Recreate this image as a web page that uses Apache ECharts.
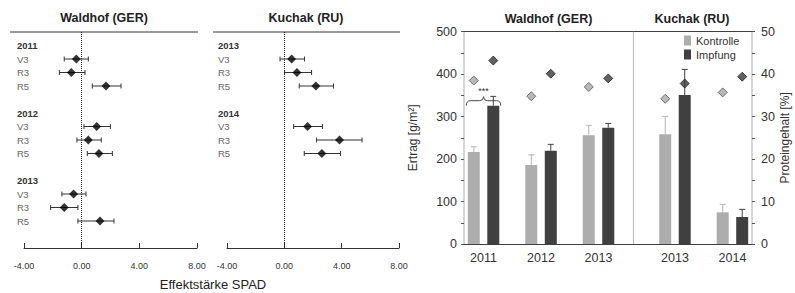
<!DOCTYPE html>
<html>
<head>
<meta charset="utf-8">
<script src="https://cdn.jsdelivr.net/npm/echarts@6.0.0/dist/echarts.min.js"></script>
<style>
  html, body { margin: 0; padding: 0; background: #fff; }
  #chart { width: 795px; height: 293px; }
</style>
</head>
<body>
<div id="chart"></div>
<script>
// Effektstärke SPAD (Forest-Plots links)
const stages = ['V3', 'R3', 'R5'];
const waldhofYears = ['2011', '2012', '2013'];
const waldhofEffect = [-0.37, -0.72, 1.69, 1.04, 0.46, 1.20, -0.56, -1.21, 1.27];
const waldhofLow = [-1.21, -1.55, 0.74, 0.16, -0.33, 0.39, -1.37, -2.15, -0.26];
const waldhofHigh = [0.46, 0.23, 2.73, 1.99, 1.36, 2.13, 0.30, -0.26, 2.24];
const kuchakYears = ['2013', '2014'];
const kuchakEffect = [0.51, 0.88, 2.20, 1.62, 3.85, 2.62];
const kuchakLow = [-0.30, 0.02, 1.04, 0.65, 2.25, 1.39];
const kuchakHigh = [1.41, 1.90, 3.43, 2.66, 5.42, 3.92];

// Ertrag und Proteingehalt (rechts)
const siteYears = [['2011', '2012', '2013'], ['2013', '2014']];
const ertragKontrolle = [216.6, 186.0, 255.9, 258.2, 74.6];
const ertragKontrolleErr = [12.4, 24.0, 23.5, 42.4, 18.8];
const ertragImpfung = [325.7, 219.8, 273.9, 350.9, 63.6];
const ertragImpfungErr = [22.0, 14.9, 10.1, 60.4, 18.0];
const proteinKontrolle = [38.5, 34.8, 37.0, 34.2, 35.7];
const proteinImpfung = [43.2, 40.1, 39.0, 37.8, 39.4];
const signifikanz = ['***', '', '', '', ''];

const FONT = '"Liberation Sans", Arial, sans-serif';
const chart = echarts.init(document.getElementById('chart'), null, { renderer: 'svg' });

// Zeilen: leer, Jahr, V3, R3, R5, leer, Jahr, ...
function forestRows(years) {
  const rows = [''];
  years.forEach(y => rows.push(y, ...stages, ''));
  while (rows.length < 17) rows.push('');
  return rows;
}

function forestData(years, eff, lo, hi) {
  const pts = [];
  const bars = [];
  years.forEach((y, i) => {
    stages.forEach((s, j) => {
      const k = i * stages.length + j;
      const row = 1 + i * (stages.length + 2) + 1 + j;
      pts.push([eff[k], row]);
      bars.push([lo[k], hi[k], row]);
    });
  });
  return { pts, bars };
}

const waldhof = forestData(waldhofYears, waldhofEffect, waldhofLow, waldhofHigh);
const kuchak = forestData(kuchakYears, kuchakEffect, kuchakLow, kuchakHigh);

// Positionen der Jahresgruppen, zwischen den Standorten etwas Abstand
const siteGap = 1.33;
const groupPos = [];
const groupLabel = [];
let p = 0;
siteYears.forEach(ys => {
  ys.forEach(y => { groupPos.push(p); groupLabel.push(y); p += 1; });
  p += siteGap - 1;
});
const edgePad = 0.34;
const xMin = -edgePad;
const xMax = groupPos[groupPos.length - 1] + edgePad;
const dividerPos = groupPos[siteYears[0].length - 1] + 0.6;
const barDx = 9.75;

function forestAxis(gridIndex) {
  return {
    gridIndex, type: 'value', min: -4, max: 8, interval: 4,
    axisLine: { show: true, onZero: false, lineStyle: { color: '#333', width: 1 } },
    axisTick: { show: true, inside: true, length: 5, lineStyle: { color: '#333' } },
    axisLabel: { formatter: v => v.toFixed(2), fontSize: 9, color: '#333', margin: 13, fontFamily: FONT },
    splitLine: { show: false }
  };
}

function rowAxis(gridIndex, rows, margin) {
  return {
    gridIndex, type: 'category', inverse: true, boundaryGap: false, data: rows,
    axisLine: { show: false }, axisTick: { show: false }, splitLine: { show: false },
    axisLabel: {
      interval: 0, align: 'left', margin,
      formatter: v => v === '' ? '' : (/^\d{4}$/.test(v) ? '{yr|' + v + '}' : '{st|' + v + '}'),
      rich: {
        yr: { fontWeight: 'bold', fontSize: 9.5, color: '#333', fontFamily: FONT },
        st: { fontSize: 9.5, color: '#666', fontFamily: FONT }
      }
    }
  };
}

function forestSeries(idx, d) {
  return [{
    type: 'custom', xAxisIndex: idx, yAxisIndex: idx,
    data: d.bars, encode: { x: [0, 1], y: 2 },
    renderItem(params, api) {
      const a = api.coord([api.value(0), api.value(2)]);
      const b = api.coord([api.value(1), api.value(2)]);
      const st = { stroke: '#333', lineWidth: 1 };
      return { type: 'group', children: [
        { type: 'line', shape: { x1: a[0], y1: a[1], x2: b[0], y2: b[1] }, style: st },
        { type: 'line', shape: { x1: a[0], y1: a[1] - 2.5, x2: a[0], y2: a[1] + 2.5 }, style: st },
        { type: 'line', shape: { x1: b[0], y1: b[1] - 2.5, x2: b[0], y2: b[1] + 2.5 }, style: st }
      ]};
    }
  }, {
    type: 'scatter', xAxisIndex: idx, yAxisIndex: idx,
    symbol: 'diamond', symbolSize: 9, itemStyle: { color: '#000' },
    data: d.pts,
    markLine: {
      silent: true, symbol: ['none', 'none'], label: { show: false },
      lineStyle: { type: 'dotted', color: '#222', width: 1 },
      data: [{ xAxis: 0 }]
    }
  }];
}

function barSeries(name, values, errs, color, errColor, dx) {
  return {
    name, type: 'custom', xAxisIndex: 2, yAxisIndex: 2,
    itemStyle: { color },
    data: values.map((v, i) => [groupPos[i], v, errs[i]]),
    encode: { x: 0, y: 1 },
    renderItem(params, api) {
      const c = api.coord([api.value(0), api.value(1)]);
      const b = api.coord([api.value(0), 0]);
      const e = api.coord([api.value(0), api.value(1) + api.value(2)]);
      const x = c[0] + dx;
      const st = { stroke: errColor, lineWidth: 1 };
      return { type: 'group', children: [
        { type: 'line', shape: { x1: x, y1: c[1], x2: x, y2: e[1] }, style: st },
        { type: 'line', shape: { x1: x - 3, y1: e[1], x2: x + 3, y2: e[1] }, style: st },
        { type: 'rect', shape: { x: x - 6, y: c[1], width: 12, height: b[1] - c[1] }, style: { fill: color } }
      ]};
    }
  };
}

function proteinSeries(name, values, fill, border, dx) {
  return {
    name, type: 'scatter', xAxisIndex: 2, yAxisIndex: 3,
    symbol: 'diamond', symbolSize: 9, symbolOffset: [dx, 0],
    itemStyle: { color: fill, borderColor: border, borderWidth: 1 },
    data: values.map((v, i) => [groupPos[i], v])
  };
}

// geschweifte Klammer mit Signifikanzsternen über einer Jahresgruppe
const sigSeries = {
  type: 'custom', xAxisIndex: 2, yAxisIndex: 2,
  data: signifikanz.map((s, i) => [groupPos[i], ertragImpfung[i], s]).filter(d => d[2]),
  encode: { x: 0, y: 1 },
  renderItem(params, api) {
    const c = api.coord([api.value(0), api.value(1)]);
    const xc = c[0], y0 = c[1];
    const xl = xc - barDx - 7.5, xr = xc + barDx + 7.5;
    const h = y0 - 5, pk = y0 - 9;
    const path = `M${xl},${y0} Q${xl},${h} ${xl + 4},${h} L${xc - 4},${h} Q${xc},${h} ${xc},${pk} ` +
      `Q${xc},${h} ${xc + 4},${h} L${xr - 4},${h} Q${xr},${h} ${xr},${y0}`;
    return { type: 'group', children: [
      { type: 'path', shape: { pathData: path }, style: { stroke: '#444', lineWidth: 1, fill: null } },
      { type: 'text', x: xc, y: y0 - 15, style: {
        text: api.value(2), align: 'center', verticalAlign: 'middle', fontSize: 9, fill: '#333', fontFamily: FONT } }
    ]};
  }
};

const titleStyle = { fontSize: 12.5, fontWeight: 'bold', fill: '#222', fontFamily: FONT, align: 'center', verticalAlign: 'middle' };

const option = {
  animation: false,
  textStyle: { fontFamily: FONT },
  grid: [
    { left: 24, top: 32, width: 173, height: 216, outerBoundsMode: 'none' },
    { left: 227, top: 32, width: 172, height: 216, outerBoundsMode: 'none' },
    { left: 464, top: 31.7, width: 288, height: 212.3, outerBoundsMode: 'none' }
  ],
  legend: {
    orient: 'vertical', left: 684, top: 35, padding: 0,
    itemWidth: 7, itemHeight: 10, itemGap: 3,
    textStyle: { fontSize: 11, color: '#333', fontFamily: FONT },
    data: [{ name: 'Kontrolle', icon: 'rect' }, { name: 'Impfung', icon: 'rect' }]
  },
  xAxis: [
    forestAxis(0),
    forestAxis(1),
    {
      gridIndex: 2, type: 'value', min: xMin, max: xMax,
      axisLine: { show: true, onZero: false, lineStyle: { color: '#404040', width: 1 } },
      axisTick: { show: false },
      axisLabel: {
        customValues: groupPos,
        formatter: v => {
          const i = groupPos.findIndex(q => Math.abs(q - v) < 1e-6);
          return i >= 0 ? groupLabel[i] : '';
        },
        fontSize: 12.5, color: '#333', margin: 7, fontFamily: FONT
      },
      splitLine: { show: false }
    },
    {
      gridIndex: 2, type: 'value', position: 'top', min: xMin, max: xMax,
      axisLine: { show: true, onZero: false, lineStyle: { color: '#404040', width: 1 } },
      axisTick: { show: false }, axisLabel: { show: false }, splitLine: { show: false }
    }
  ],
  yAxis: [
    rowAxis(0, forestRows(waldhofYears), 7),
    rowAxis(1, forestRows(kuchakYears), 9),
    {
      gridIndex: 2, type: 'value', min: 0, max: 500, interval: 50,
      name: 'Ertrag [g/m²]', nameLocation: 'middle', nameRotate: 90, nameGap: 45,
      nameTextStyle: { fontSize: 12, color: '#333', fontFamily: FONT },
      axisLine: { show: true, onZero: false, lineStyle: { color: '#c8c8c8', width: 1.5 } },
      axisTick: { show: true, length: 3, lineStyle: { color: '#555' } },
      axisLabel: { formatter: v => v % 100 === 0 ? String(v) : '', fontSize: 12.5, color: '#333', margin: 7, fontFamily: FONT },
      splitLine: { show: false }
    },
    {
      gridIndex: 2, type: 'value', position: 'right', min: 0, max: 50, interval: 5,
      name: 'Proteingehalt [%]', nameLocation: 'middle', nameRotate: 90, nameGap: 27,
      nameTextStyle: { fontSize: 12, color: '#333', fontFamily: FONT },
      axisLine: { show: true, onZero: false, lineStyle: { color: '#c8c8c8', width: 1.5 } },
      axisTick: { show: true, length: 3, lineStyle: { color: '#555' } },
      axisLabel: { formatter: v => v % 10 === 0 ? String(v) : '', fontSize: 12.5, color: '#333', margin: 9, fontFamily: FONT },
      splitLine: { show: false }
    }
  ],
  graphic: [
    { type: 'line', shape: { x1: 10, y1: 32, x2: 198, y2: 32 }, style: { stroke: '#333', lineWidth: 1 }, silent: true },
    { type: 'line', shape: { x1: 213, y1: 32, x2: 400, y2: 32 }, style: { stroke: '#333', lineWidth: 1 }, silent: true },
    { type: 'text', x: 104, y: 18, style: Object.assign({ text: 'Waldhof (GER)' }, titleStyle), silent: true },
    { type: 'text', x: 306, y: 18, style: Object.assign({ text: 'Kuchak (RU)' }, titleStyle), silent: true },
    { type: 'text', x: 548.5, y: 19, style: Object.assign({ text: 'Waldhof (GER)' }, titleStyle), silent: true },
    { type: 'text', x: 692, y: 19, style: Object.assign({ text: 'Kuchak (RU)' }, titleStyle), silent: true },
    { type: 'text', x: 213, y: 284, style: Object.assign({}, titleStyle, { text: 'Effektstärke SPAD', fontWeight: 'normal', fontSize: 13 }), silent: true }
  ],
  series: [
    ...forestSeries(0, waldhof),
    ...forestSeries(1, kuchak),
    barSeries('Kontrolle', ertragKontrolle, ertragKontrolleErr, '#adadad', '#b4b4b4', -barDx),
    barSeries('Impfung', ertragImpfung, ertragImpfungErr, '#404040', '#404040', barDx),
    proteinSeries('Protein Kontrolle', proteinKontrolle, '#a8a8a8', '#555', -barDx),
    proteinSeries('Protein Impfung', proteinImpfung, '#3a3a3a', '#222', barDx),
    sigSeries,
    {
      type: 'line', xAxisIndex: 2, yAxisIndex: 2, data: [], silent: true,
      markLine: {
        silent: true, symbol: ['none', 'none'], label: { show: false },
        lineStyle: { type: 'solid', color: '#bdbdbd', width: 1.2 },
        data: [{ xAxis: dividerPos }]
      }
    }
  ]
};

chart.setOption(option);
</script>
</body>
</html>
